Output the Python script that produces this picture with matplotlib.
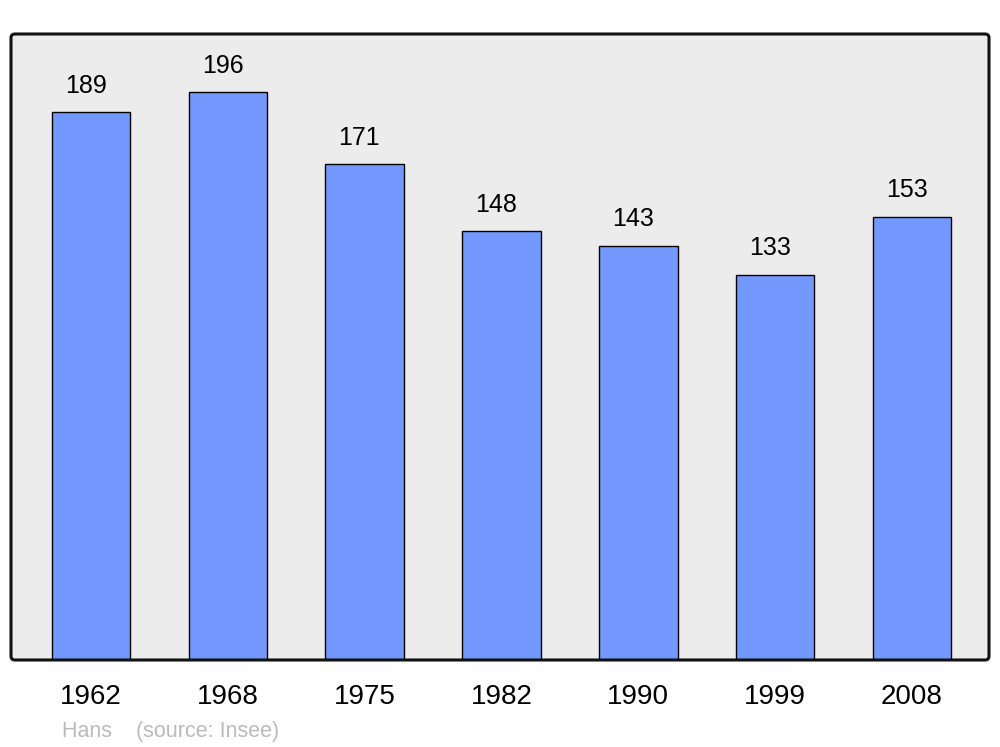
import matplotlib
matplotlib.use("Agg")
import matplotlib.pyplot as plt
from matplotlib.patches import FancyBboxPatch

plt.rcParams['font.family'] = ['Liberation Sans', 'DejaVu Sans']

years  = ["1962", "1968", "1975", "1982", "1990", "1999", "2008"]
values = [189, 196, 171, 148, 143, 133, 153]
source = "Hans    (source: Insee)"

BAR_COLOR = "#7399ff"
BG_COLOR  = "#ececec"

fig = plt.figure(figsize=(10, 7.47), dpi=100)
ax  = fig.add_axes([0.011, 1 - 660 / 747, 0.978, 626 / 747])
ax.set_facecolor("none")
for s in ax.spines.values():
    s.set_visible(False)

# rounded frame: fill behind, outline on top
asp = 978 / 626
ax.add_patch(FancyBboxPatch((0, 0), 1, 1, boxstyle="round,pad=0,rounding_size=0.004",
                            mutation_aspect=asp, transform=ax.transAxes,
                            facecolor=BG_COLOR, edgecolor="none", zorder=0, clip_on=False))
ax.add_patch(FancyBboxPatch((0, 0), 1, 1, boxstyle="round,pad=0,rounding_size=0.004",
                            mutation_aspect=asp, transform=ax.transAxes,
                            facecolor="none", edgecolor="#111111", lw=2.2, zorder=5, clip_on=False))

x = range(len(years))
bars = ax.bar(x, values, width=0.575, color=BAR_COLOR, edgecolor="black", lw=1.0, zorder=2)

for xi, v in zip(x, values):
    ax.annotate(str(v), (xi, v), xytext=(-3.8, 14.0), textcoords="offset points",
                ha="center", va="baseline", fontsize=18, color="black")

ax.set_xlim(-0.585, 6.563)
ax.set_ylim(0, 216)
ax.set_yticks([])
ax.set_xticks(list(x))
ax.set_xticklabels(years, fontsize=20)
ax.tick_params(axis="x", length=0, pad=17.5)

fig.text(0.0617, 1 - 737 / 747, source, fontsize=15.5, color="#bbbbbb", va="baseline")

fig.savefig("out.png", dpi=100, facecolor="white")
